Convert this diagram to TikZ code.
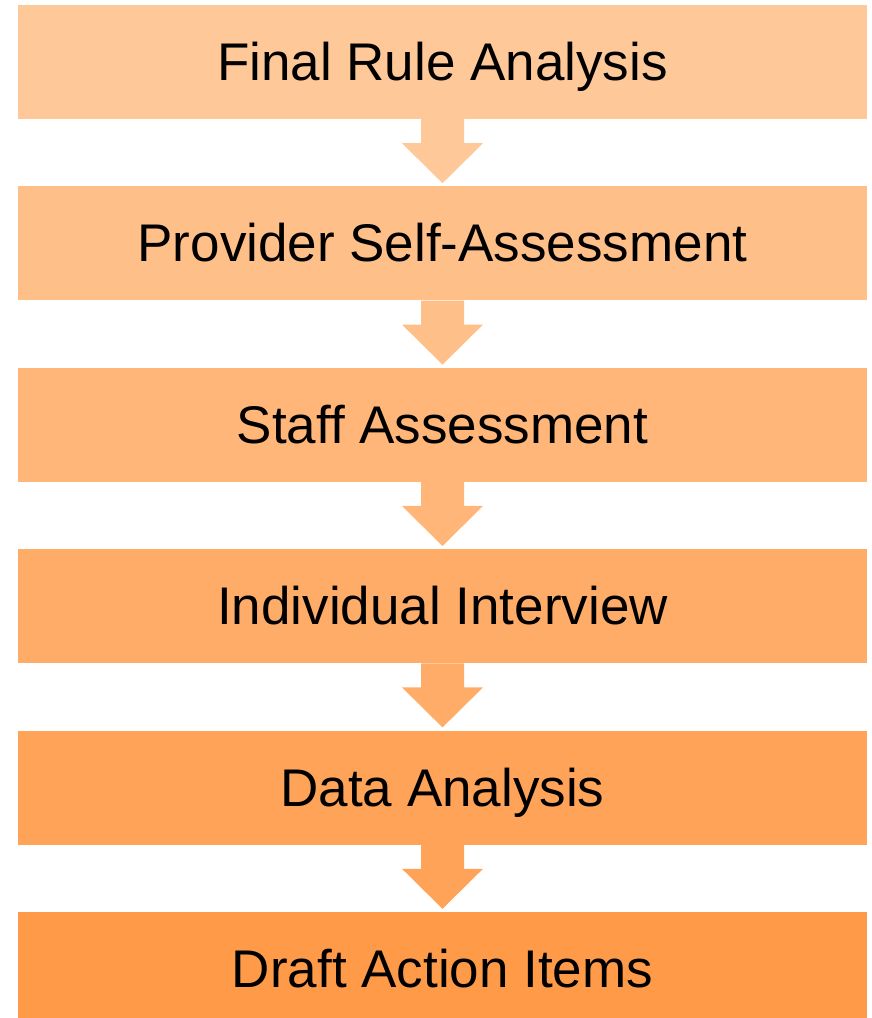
\documentclass[tikz,border=0pt]{standalone}
\usepackage{fontspec}
\setmainfont{Liberation Sans}
\usepackage{xcolor}
\usetikzlibrary{positioning,calc}
\definecolor{firstpeach}{HTML}{FFC898}
\definecolor{lastorange}{HTML}{FF9A48}

\begin{document}
\begin{tikzpicture}[x=1pt,y=1pt,
    stepbox/.style={minimum width=849pt, minimum height=114pt, inner sep=0pt,
        text height=37pt, text depth=0pt, font=\fontsize{53}{60}\selectfont},
    node distance=67pt]
    \useasboundingbox (0,0) rectangle (871,1018);
    \foreach \i/\txt in {1/Final Rule Analysis, 2/Provider Self-Assessment, 3/Staff Assessment,
            4/Individual Interview, 5/Data Analysis, 6/Draft Action Items} {
        \pgfmathtruncatemacro{\pct}{(\i-1)*20}
        \pgfmathtruncatemacro{\prevpct}{(\i-2)*20}
        \pgfmathtruncatemacro{\prev}{\i-1}
        \ifnum\i=1
            \node[stepbox, fill=lastorange!\pct!firstpeach] (s\i) at (442.5,956) {\txt};
        \else
            \node[stepbox, fill=lastorange!\pct!firstpeach, below=of s\prev] (s\i) {\txt};
            \fill[lastorange!\prevpct!firstpeach] ($(s\prev.south)+(-21.5,0)$) -- ++(0,-24) -- ++(-19,0)
                -- ($(s\i.north)+(0,3)$) -- ($(s\prev.south)+(40.5,-24)$) -- ++(-19,0)
                -- ($(s\prev.south)+(21.5,0)$) -- cycle;
        \fi
    }
\end{tikzpicture}
\end{document}
